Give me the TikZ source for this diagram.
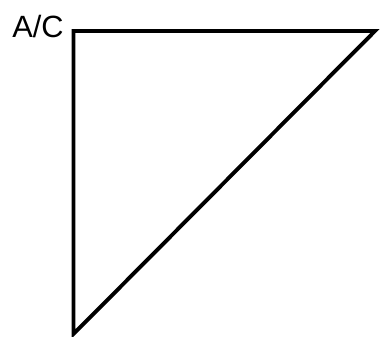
\documentclass[tikz,border=0pt]{standalone}
\usepackage{fontspec}
\setmainfont{Liberation Sans}
\usetikzlibrary{positioning}

\begin{document}
\begin{tikzpicture}[x=0.02cm,y=-0.02cm]
  \useasboundingbox (0,0) rectangle (382,337);
  \tikzset{edge/.style={line width=2.2pt,line join=miter}}
  \coordinate (tl) at (73.5,31);
  \coordinate (tr) at (375,31);
  \coordinate (bt) at (73.5,334);
  \draw[edge] (tl) -- (tr) -- (bt) -- cycle;
  \node[anchor=east,inner sep=0pt,font=\fontsize{17.5}{20}\selectfont] (ac) at (64,27) {A/C};
\end{tikzpicture}
\end{document}
